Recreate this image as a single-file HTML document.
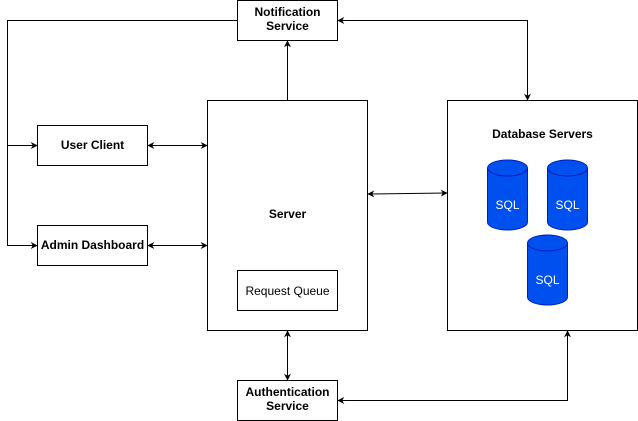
<!DOCTYPE html>
<html><head><style>
html,body{margin:0;padding:0;background:#fff;}
svg{display:block;}
text{font-family:"Liberation Sans",Arial,sans-serif;font-size:12px;}
.b{font-weight:bold;}
</style></head><body>
<svg width="638" height="421" viewBox="0 0 638 421" xmlns="http://www.w3.org/2000/svg">
<defs>
<marker id="a" viewBox="0 0 10 10" refX="9" refY="5" markerWidth="7" markerHeight="7" orient="auto-start-reverse" markerUnits="userSpaceOnUse">
<path d="M0,0 L10,5 L0,10 L3,5 z" fill="#000"/>
</marker>
</defs>
<g fill="#fff" stroke="#000" stroke-width="1">
<rect x="237.5" y="0.5" width="100" height="40"/>
<rect x="37.5" y="125.5" width="110" height="40"/>
<rect x="37.5" y="225.5" width="110" height="40"/>
<rect x="207.5" y="100.5" width="160" height="230"/>
<rect x="237.5" y="270.5" width="100" height="40"/>
<rect x="447.5" y="100.5" width="190" height="230"/>
<rect x="237.5" y="380.5" width="100" height="40"/>
</g>
<g fill="none" stroke="#000" stroke-width="1">
<path d="M237,20.5 H7.5 V145.5 H37" marker-end="url(#a)"/>
<path d="M7.5,145.5 V245.5 H37" marker-end="url(#a)"/>
<path d="M287.5,100 V41" marker-end="url(#a)"/>
<path d="M338,20.5 H527.5 V100" marker-start="url(#a)" marker-end="url(#a)"/>
<path d="M148,145.5 H207" marker-start="url(#a)" marker-end="url(#a)"/>
<path d="M148,245.5 H207" marker-start="url(#a)" marker-end="url(#a)"/>
<path d="M368,194 L447,193" marker-start="url(#a)" marker-end="url(#a)"/>
<path d="M287.5,331 V380" marker-start="url(#a)" marker-end="url(#a)"/>
<path d="M338,400.5 H567.5 V331" marker-start="url(#a)" marker-end="url(#a)"/>
</g>
<g fill="#0050ef" stroke="#001dbc" stroke-width="1">
<path d="M487.5,168 A20,8 0 0 1 527.5,168 V222 A20,8 0 0 1 487.5,222 Z"/>
<path d="M487.5,168 A20,8 0 0 0 527.5,168" fill="none"/>
<path d="M547.5,168 A20,8 0 0 1 587.5,168 V222 A20,8 0 0 1 547.5,222 Z"/>
<path d="M547.5,168 A20,8 0 0 0 587.5,168" fill="none"/>
<path d="M527.5,243 A20,8 0 0 1 567.5,243 V297 A20,8 0 0 1 527.5,297 Z"/>
<path d="M527.5,243 A20,8 0 0 0 567.5,243" fill="none"/>
</g>
<g text-anchor="middle">
<text x="287.5" y="16" class="b">Notification</text>
<text x="287.5" y="30" class="b">Service</text>
<text x="92.5" y="149" class="b">User Client</text>
<text x="92.5" y="249" class="b">Admin Dashboard</text>
<text x="287.5" y="218" class="b">Server</text>
<text x="287.5" y="295">Request Queue</text>
<text x="542.5" y="138" class="b">Database Servers</text>
<text x="287.5" y="396" class="b">Authentication</text>
<text x="287.5" y="410" class="b">Service</text>
<text x="507.5" y="209" fill="#fff">SQL</text>
<text x="567.5" y="209" fill="#fff">SQL</text>
<text x="547.5" y="284" fill="#fff">SQL</text>
</g>
</svg>
</body></html>
